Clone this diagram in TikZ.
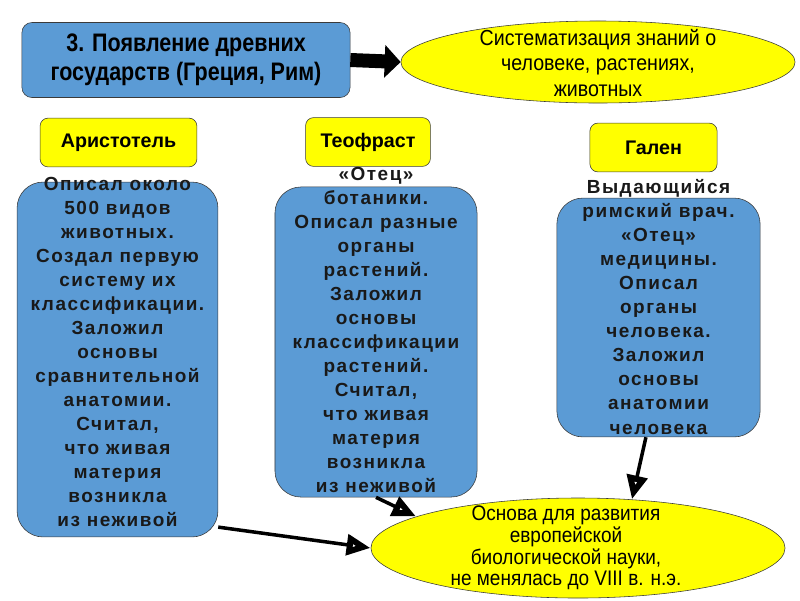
\documentclass[tikz,border=0pt]{standalone}
\usepackage{fontspec}
\setmainfont{Liberation Sans}
\newfontfamily\narrowfont[FakeStretch=0.85]{Liberation Sans}
\newfontfamily\ovalfont[FakeStretch=0.9]{Liberation Sans}
\newfontfamily\cardfont[LetterSpace=8]{Liberation Sans}
\usetikzlibrary{shapes.geometric, arrows.meta, positioning}
\definecolor{boxblue}{HTML}{5B9BD5}
\definecolor{ovalyellow}{HTML}{FFFF00}
\definecolor{edgegray}{HTML}{3A3A3A}

\begin{document}
\begin{tikzpicture}[
    x=0.025cm, y=-0.025cm,
    headbox/.style={rectangle, rounded corners=0.25cm, draw=edgegray, fill=boxblue, minimum width=8.2cm, minimum height=1.875cm, align=center, font=\narrowfont\bfseries\fontsize{18}{20.5}\selectfont},
    namebox/.style={rectangle, rounded corners=0.2cm, draw=edgegray, fill=ovalyellow, minimum height=1.22cm, font=\bfseries\fontsize{14}{16}\selectfont},
    card/.style={rectangle, rounded corners=0.65cm, draw=edgegray, fill=boxblue, inner sep=0pt},
    cardtext/.style={align=center, inner sep=0pt, font=\cardfont\bfseries\fontsize{13.5}{17.07}\selectfont, text=black!90},
    oval/.style={ellipse, draw=edgegray, fill=ovalyellow, inner sep=0pt},
    ovaltext/.style={align=center, inner sep=0pt, font=\ovalfont\fontsize{15.5}{17.8}\selectfont},
    flow/.style={-{Triangle[open, length=0.6cm, width=0.5cm, line width=4.5pt]}, line width=2.5pt},
]
    \useasboundingbox (0,0) rectangle (800,600);

    % Top row
    \node[headbox] (epoch) at (186,60) {3. Появление древних\\государств (Греция, Рим)};
    \node[oval, minimum width=9.85cm, minimum height=2.05cm] (system) at (598,62) {};
    \node[ovaltext] (systemtext) at (598,63) {Систематизация  знаний о\\человеке, растениях,\\животных};
    \draw[line width=0.35cm, -{Triangle[length=0.4cm, width=0.8cm]}] (epoch.east) -- (system.west);

    % Scientists
    \node[namebox, minimum width=3.92cm] (aristname) at (118.5,142.5) {Аристотель};
    \node[namebox, minimum width=3.12cm] (theoname) at (368,142) {Теофраст};
    \node[namebox, minimum width=3.18cm] (galenname) at (653.5,147.5) {Гален};

    % Description cards
    \node[card, minimum width=5.02cm, minimum height=8.87cm] (aristcard) at (117.5,359.5) {};
    \node[card, minimum width=5.05cm, minimum height=7.75cm] (theocard) at (376,342) {};
    \node[card, minimum width=5.08cm, minimum height=5.97cm] (galencard) at (658.5,317.5) {};

    \node[cardtext] (aristtext) at (117.5,352) {Описал около\\500 видов\\животных.\\Создал первую\\систему их\\классификации.\\Заложил\\основы\\сравнительной\\анатомии.\\Считал,\\что живая\\материя\\возникла\\из неживой};
    \node[cardtext] (theotext) at (376,329.5) {«Отец»\\ботаники.\\Описал разные\\органы\\растений.\\Заложил\\основы\\классификации\\растений.\\Считал,\\что живая\\материя\\возникла\\из неживой};
    \node[cardtext] (galentext) at (658.5,307) {Выдающийся\\римский врач.\\«Отец»\\медицины.\\Описал\\органы\\человека.\\Заложил\\основы\\анатомии\\человека};

    % Result
    \node[oval, minimum width=10.35cm, minimum height=2.5cm] (basis) at (578,548) {};
    \node[ovaltext, font=\ovalfont\fontsize{15}{15.5}\selectfont] (basistext) at (566,548) {Основа для развития\\европейской\\биологической науки,\\не менялась до VIII в. н.э.};

    % Arrows
    \draw[flow] (aristcard.-59) -- (basis.west);
    \draw[flow] (theocard.south) -- (basis.169);
    \draw[flow] (galencard.-96) -- (basis.42);
\end{tikzpicture}
\end{document}
